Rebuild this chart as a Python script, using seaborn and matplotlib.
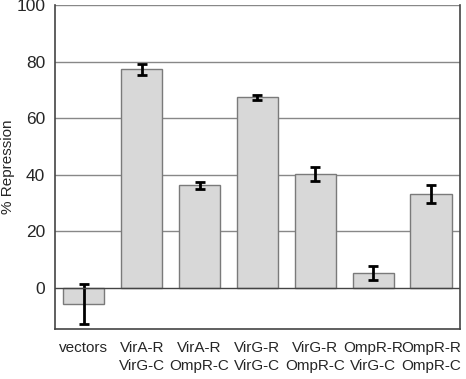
import pandas as pd
import numpy as np
import matplotlib
matplotlib.use("Agg")
import matplotlib.pyplot as plt
import seaborn as sns

labels = ["vectors", "VirA-R\nVirG-C", "VirA-R\nOmpR-C", "VirG-R\nVirG-C",
          "VirG-R\nOmpR-C", "OmpR-R\nVirG-C", "OmpR-R\nOmpR-C"]
repression = [-5.7, 77.2, 36.3, 67.3, 40.3, 5.3, 33.2]
errors = [7.0, 2.0, 1.2, 0.8, 2.6, 2.5, 3.3]

df = pd.DataFrame({"construct": labels, "repression": repression, "err": errors})

sns.set_style("white")
plt.rcParams["font.family"] = ["Liberation Sans", "DejaVu Sans"]

fig, ax = plt.subplots(figsize=(4.66, 3.79), dpi=100)
sns.barplot(data=df, x="construct", y="repression", color="#d8d8d8",
            edgecolor="#7a7a7a", linewidth=1, width=0.71, saturation=1, ax=ax, zorder=3)
ax.errorbar(np.arange(len(labels)), df["repression"], yerr=df["err"], fmt="none",
            ecolor="black", elinewidth=2, capsize=3.5, capthick=2, zorder=4)

ax.set_ylim(-14.5, 100)
ax.set_xlim(-0.5, 6.5)
ax.set_yticks([0, 20, 40, 60, 80, 100])
for y in [20, 40, 60, 80, 100]:
    ax.axhline(y, color="#888888", lw=1, zorder=1)
ax.axhline(0, color="#444444", lw=1, zorder=5)

for s in ["left", "right", "bottom"]:
    ax.spines[s].set_color("#444444")
    ax.spines[s].set_linewidth(1.2)
ax.spines["top"].set_visible(False)

ax.tick_params(axis="y", labelsize=12.5, length=0, pad=7)
ax.tick_params(axis="x", labelsize=11, length=0, pad=9)
for t in ax.get_xticklabels():
    t.set_linespacing(1.3)
ax.set_xlabel("")
ax.set_ylabel("% Repression", fontsize=11, labelpad=1)

plt.subplots_adjust(left=0.118, right=0.987, top=0.987, bottom=0.132)
plt.savefig("out.png", dpi=100)
